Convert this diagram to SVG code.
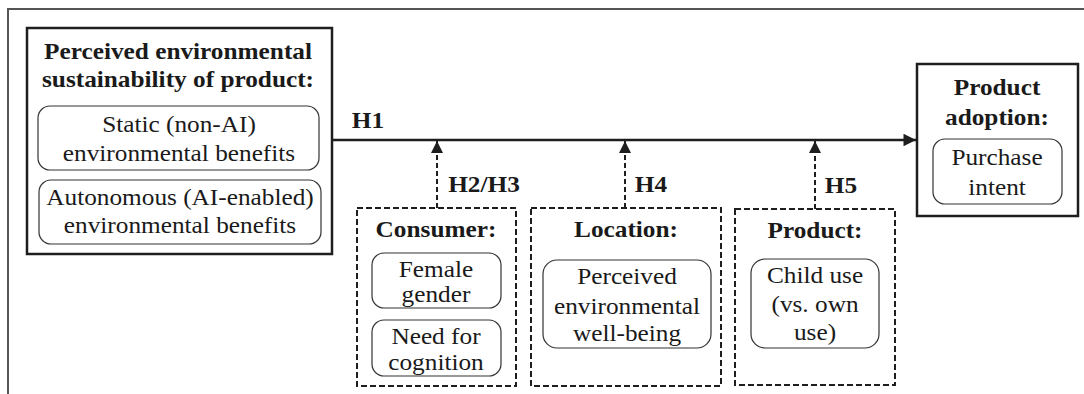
<svg xmlns="http://www.w3.org/2000/svg" width="1084" height="394" viewBox="0 0 1084 394">
<defs>
<style>
text{font-family:"Liberation Serif","Times New Roman",serif;font-size:23px;fill:#1a1a1a;text-anchor:middle}
.b{font-weight:bold}
.outer{fill:#fff;stroke:#1e1e1e;stroke-width:2.5}
.inner{fill:#fff;stroke:#333;stroke-width:1.2}
.dash{fill:#fff;stroke:#1e1e1e;stroke-width:2;stroke-dasharray:6 3}
.main{stroke:#1e1e1e;stroke-width:2.5;fill:none}
.mod{stroke:#1e1e1e;stroke-width:2;stroke-dasharray:5 3;fill:none}
</style>
<marker id="ah" viewBox="0 0 10 10" refX="10" refY="5" markerWidth="6" markerHeight="5" markerUnits="strokeWidth" orient="auto">
<path d="M0,0 L10,5 L0,10 z" fill="#1e1e1e"/>
</marker>
<marker id="ah2" viewBox="0 0 10 10" refX="10" refY="5" markerWidth="7" markerHeight="6" markerUnits="strokeWidth" orient="auto">
<path d="M0,0 L10,5 L0,10 z" fill="#1e1e1e"/>
</marker>
</defs>
<rect width="1084" height="394" fill="#fff"/>
<path d="M8,394 V9 H1084" fill="none" stroke="#555" stroke-width="2"/>

<g id="connectors">
<line class="main" x1="332" y1="140" x2="916" y2="140" marker-end="url(#ah)"/>
<text class="b" transform="translate(368,128) scale(1.1,1)">H1</text>
<line class="mod" x1="437" y1="208" x2="437" y2="141" marker-end="url(#ah2)"/>
<text class="b" transform="translate(484,192) scale(1.1,1)">H2/H3</text>
<line class="mod" x1="625" y1="208" x2="625" y2="141" marker-end="url(#ah2)"/>
<text class="b" transform="translate(651,192) scale(1.1,1)">H4</text>
<line class="mod" x1="815" y1="209" x2="815" y2="141" marker-end="url(#ah2)"/>
<text class="b" transform="translate(841,193) scale(1.1,1)">H5</text>
</g>

<g id="sustainability">
<rect class="outer" x="27" y="28" width="305" height="226"/>
<text class="b" transform="translate(178,59) scale(1.1,1)">Perceived environmental</text>
<text class="b" transform="translate(178,87) scale(1.1,1)">sustainability of product:</text>
<g id="static">
<rect class="inner" x="38" y="106" width="281" height="64" rx="12"/>
<text transform="translate(179,132) scale(1.1,1)">Static (non-AI)</text>
<text transform="translate(179,161) scale(1.1,1)">environmental benefits</text>
</g>
<g id="autonomous">
<rect class="inner" x="39" y="180" width="282" height="64" rx="12"/>
<text transform="translate(180,205) scale(1.1,1)">Autonomous (AI-enabled)</text>
<text transform="translate(180,233) scale(1.1,1)">environmental benefits</text>
</g>
</g>

<g id="adoption">
<rect class="outer" x="917" y="64" width="161" height="152"/>
<text class="b" transform="translate(997,95) scale(1.1,1)">Product</text>
<text class="b" transform="translate(997,125) scale(1.1,1)">adoption:</text>
<g id="purchase">
<rect class="inner" x="933" y="139" width="129" height="65" rx="12"/>
<text transform="translate(997,165) scale(1.1,1)">Purchase</text>
<text transform="translate(997,195) scale(1.1,1)">intent</text>
</g>
</g>

<g id="consumer">
<rect class="dash" x="357" y="208" width="159" height="178"/>
<text class="b" transform="translate(436,237) scale(1.1,1)">Consumer:</text>
<g id="female">
<rect class="inner" x="372" y="253" width="129" height="55" rx="12"/>
<text transform="translate(436,277) scale(1.1,1)">Female</text>
<text transform="translate(436,302) scale(1.1,1)">gender</text>
</g>
<g id="nfc">
<rect class="inner" x="372" y="320" width="129" height="56" rx="12"/>
<text transform="translate(436,344) scale(1.1,1)">Need for</text>
<text transform="translate(436,370) scale(1.1,1)">cognition</text>
</g>
</g>

<g id="location">
<rect class="dash" x="531" y="208" width="190" height="178"/>
<text class="b" transform="translate(626,237) scale(1.1,1)">Location:</text>
<g id="wellbeing">
<rect class="inner" x="543" y="260" width="168" height="88" rx="14"/>
<text transform="translate(627,284) scale(1.1,1)">Perceived</text>
<text transform="translate(627,314) scale(1.1,1)">environmental</text>
<text transform="translate(627,341) scale(1.1,1)">well-being</text>
</g>
</g>

<g id="product">
<rect class="dash" x="735" y="209" width="160" height="176"/>
<text class="b" transform="translate(815,238) scale(1.1,1)">Product:</text>
<g id="childuse">
<rect class="inner" x="751" y="259" width="128" height="89" rx="14"/>
<text transform="translate(815,283) scale(1.1,1)">Child use</text>
<text transform="translate(815,312) scale(1.1,1)">(vs. own</text>
<text transform="translate(815,340) scale(1.1,1)">use)</text>
</g>
</g>
</svg>
